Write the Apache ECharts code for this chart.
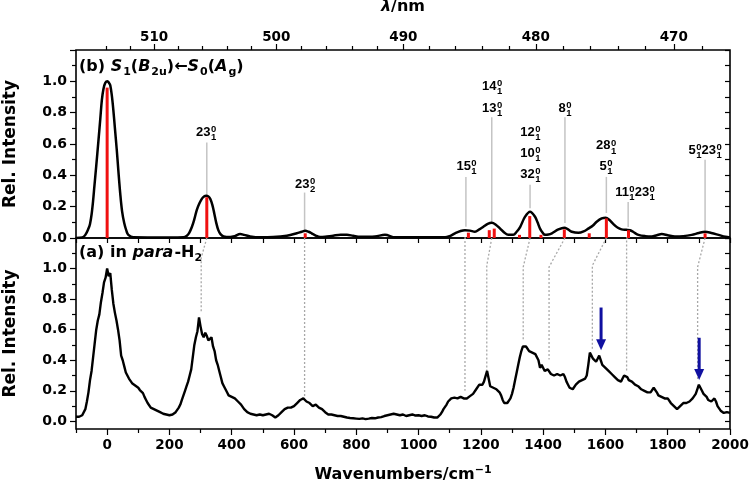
<!DOCTYPE html>
<html>
<head>
<meta charset="UTF-8">
<title>S1 - S0 spectrum</title>
<script src="https://cdn.jsdelivr.net/npm/echarts@6/dist/echarts.min.js"></script>
<style>
    *{margin:0;padding:0;}
    #main{width:750px;height:486px;background:#fff;}
</style>
</head>
<body>
<div id="main"></div>
<script>
var FONT = "'Liberation Sans', Arial, sans-serif";   // peak labels
var TFONT = "'DejaVu Sans', sans-serif";             // axes and titles

// origin band position (cm-1), used for the wavelength axis on top
var nu0 = 19457;
var topNmMajor = [510, 500, 490, 480, 470];
var topNmMinor = [514, 512, 508, 506, 504, 502, 498, 496, 494, 492, 488, 486, 484, 482, 478, 476, 474, 472, 468];

var wnMajor = [0, 200, 400, 600, 800, 1000, 1200, 1400, 1600, 1800, 2000];
var wnMinor = [-100, 100, 300, 500, 700, 900, 1100, 1300, 1500, 1700, 1900];
var intMajor = [0, 0.2, 0.4, 0.6, 0.8, 1.0];
var intTicks = [0, 0.2, 0.4, 0.6, 0.8, 1.0, 1.2];
var intMinor = [0.1, 0.3, 0.5, 0.7, 0.9, 1.1];
var intAll = [0, 0.1, 0.2, 0.3, 0.4, 0.5, 0.6, 0.7, 0.8, 0.9, 1.0, 1.1, 1.2];

// (b) simulated spectrum envelope
var simX = [-100, -80, -70, -60, -55, -50, -45, -41, -35, -28, -22, -17, -12, -6, 1, 6, 10, 15, 20, 25, 31, 36, 42, 48, 55, 62, 68, 84, 150, 245,
    256, 264, 272, 280, 288, 296, 304, 311, 318, 325, 331, 338, 344, 350, 357, 364, 374, 395, 410, 427, 440, 459, 491, 533, 577, 609, 625, 636, 647, 657,
    670, 684, 700, 726, 750, 770, 790, 812, 860, 892, 925, 999, 1085, 1100, 1117, 1135, 1149, 1165, 1181, 1195, 1208, 1222, 1235, 1248, 1262, 1275, 1288, 1304, 1315, 1326,
    1342, 1358, 1374, 1382, 1390, 1398, 1406, 1417, 1428, 1449, 1468, 1480, 1492, 1513, 1530, 1545, 1560, 1572, 1588, 1601, 1613, 1625, 1640, 1652, 1667, 1679, 1692, 1706, 1728, 1749,
    1765, 1781, 1800, 1823, 1850, 1877, 1900, 1920, 1940, 1963, 1985, 2000];
var simY = [0, 0.003, 0.02, 0.06, 0.09, 0.15, 0.24, 0.33, 0.46, 0.62, 0.76, 0.88, 0.95, 0.99, 1.0, 0.99, 0.975, 0.91, 0.815, 0.70, 0.56, 0.43, 0.285, 0.17, 0.094, 0.045, 0.02, 0.004, 0.003, 0.005,
    0.015, 0.035, 0.07, 0.12, 0.18, 0.22, 0.25, 0.265, 0.27, 0.265, 0.25, 0.21, 0.157, 0.10, 0.05, 0.025, 0.01, 0.006, 0.012, 0.025, 0.02, 0.01, 0.004, 0.006, 0.015, 0.03, 0.04, 0.046, 0.04, 0.03,
    0.015, 0.006, 0.008, 0.015, 0.02, 0.02, 0.014, 0.008, 0.01, 0.02, 0.004, 0.004, 0.004, 0.012, 0.03, 0.045, 0.05, 0.047, 0.04, 0.055, 0.072, 0.09, 0.097, 0.085, 0.06, 0.035, 0.02, 0.02, 0.04, 0.07,
    0.136, 0.168, 0.136, 0.10, 0.06, 0.035, 0.02, 0.022, 0.03, 0.055, 0.066, 0.055, 0.04, 0.033, 0.042, 0.06, 0.08, 0.104, 0.125, 0.13, 0.115, 0.09, 0.065, 0.055, 0.052, 0.05, 0.035, 0.02, 0.012, 0.01,
    0.018, 0.025, 0.018, 0.01, 0.012, 0.02, 0.032, 0.04, 0.032, 0.02, 0.008, 0.004];

// (b) calculated stick spectrum
var stickX = [0, 320, 636, 1160, 1227, 1243, 1324, 1357, 1393, 1468, 1548, 1603, 1674, 1920];
var stickY = [0.96, 0.26, 0.03, 0.034, 0.05, 0.06, 0.02, 0.14, 0.02, 0.055, 0.03, 0.125, 0.05, 0.03];

// assignment guide lines in (b)
var guideX = [320, 634, 1152, 1235, 1358, 1470, 1603, 1673, 1920];
var guideLow = [0.27, 0.05, 0.072, 0.10, 0.19, 0.095, 0.16, 0.07, 0.05];
var guideHigh = [0.61, 0.29, 0.39, 0.77, 0.34, 0.77, 0.39, 0.23, 0.50];

// assignment labels: mode numbers (superscript 0, subscript quanta)
var labelX = [318, 636, 1154, 1236, 1236, 1359, 1359, 1359, 1470, 1602, 1602, 1695, 1920];
var labelY = [0.675, 0.34, 0.455, 0.83, 0.97, 0.408, 0.543, 0.677, 0.826, 0.454, 0.588, 0.289, 0.56];
var labelModes = [['23'], ['23'], ['15'], ['13'], ['14'], ['32'], ['10'], ['12'], ['8'], ['5'], ['28'], ['11', '23'], ['5', '23']];
var labelQuanta = [['1'], ['2'], ['1'], ['1'], ['1'], ['1'], ['1'], ['1'], ['1'], ['1'], ['1'], ['1', '1'], ['1', '1']];

// (a) experimental spectrum in para-H2, sampled every 5 cm-1 from -100 (one row = 100 cm-1)
var expStart = -100, expStep = 5;
var expY = [
    0.03, 0.025, 0.03, 0.035, 0.04, 0.05, 0.08, 0.13, 0.19, 0.27, 0.33, 0.42, 0.51, 0.60, 0.66, 0.70, 0.78, 0.84, 0.91, 0.94,
    1.00, 0.95, 0.97, 0.86, 0.77, 0.71, 0.66, 0.60, 0.53, 0.43, 0.40, 0.36, 0.32, 0.31, 0.28, 0.27, 0.25, 0.245, 0.235, 0.225,
    0.22, 0.205, 0.20, 0.185, 0.16, 0.14, 0.12, 0.11, 0.09, 0.09, 0.08, 0.07, 0.07, 0.065, 0.06, 0.06, 0.05, 0.05, 0.045, 0.04,
    0.04, 0.04, 0.045, 0.05, 0.06, 0.07, 0.09, 0.11, 0.14, 0.17, 0.20, 0.23, 0.26, 0.30, 0.34, 0.42, 0.50, 0.55, 0.59, 0.68,
    0.62, 0.57, 0.55, 0.58, 0.56, 0.53, 0.54, 0.55, 0.49, 0.46, 0.40, 0.37, 0.33, 0.29, 0.25, 0.23, 0.21, 0.19, 0.17, 0.165,
    0.16, 0.155, 0.15, 0.14, 0.13, 0.12, 0.11, 0.095, 0.08, 0.07, 0.06, 0.055, 0.05, 0.048, 0.045, 0.042, 0.04, 0.043, 0.045, 0.042,
    0.04, 0.043, 0.045, 0.05, 0.05, 0.045, 0.04, 0.03, 0.025, 0.03, 0.04, 0.05, 0.06, 0.07, 0.08, 0.085, 0.09, 0.085, 0.09, 0.095,
    0.10, 0.11, 0.12, 0.13, 0.14, 0.145, 0.15, 0.14, 0.13, 0.135, 0.12, 0.11, 0.10, 0.105, 0.11, 0.10, 0.09, 0.095, 0.08, 0.07,
    0.06, 0.05, 0.045, 0.048, 0.045, 0.04, 0.04, 0.038, 0.035, 0.035, 0.035, 0.03, 0.03, 0.028, 0.025, 0.025, 0.022, 0.02, 0.02, 0.02,
    0.018, 0.02, 0.016, 0.02, 0.02, 0.016, 0.015, 0.02, 0.018, 0.02, 0.022, 0.025, 0.02, 0.022, 0.025, 0.03, 0.028, 0.035, 0.035, 0.04,
    0.04, 0.045, 0.045, 0.04, 0.05, 0.055, 0.045, 0.04, 0.04, 0.045, 0.045, 0.04, 0.035, 0.04, 0.04, 0.045, 0.045, 0.04, 0.038, 0.042,
    0.04, 0.038, 0.035, 0.04, 0.04, 0.035, 0.032, 0.03, 0.03, 0.028, 0.025, 0.025, 0.025, 0.03, 0.045, 0.06, 0.08, 0.09, 0.11, 0.13,
    0.14, 0.15, 0.15, 0.155, 0.16, 0.15, 0.15, 0.16, 0.16, 0.15, 0.14, 0.15, 0.16, 0.165, 0.17, 0.18, 0.19, 0.21, 0.22, 0.24,
    0.25, 0.24, 0.26, 0.27, 0.33, 0.28, 0.23, 0.22, 0.22, 0.21, 0.21, 0.20, 0.19, 0.17, 0.14, 0.12, 0.11, 0.12, 0.13, 0.15,
    0.18, 0.22, 0.27, 0.32, 0.37, 0.42, 0.46, 0.49, 0.50, 0.49, 0.48, 0.46, 0.46, 0.45, 0.44, 0.44, 0.43, 0.40, 0.35, 0.37,
    0.36, 0.33, 0.32, 0.34, 0.33, 0.31, 0.31, 0.30, 0.30, 0.31, 0.31, 0.30, 0.30, 0.31, 0.29, 0.26, 0.24, 0.22, 0.21, 0.21,
    0.22, 0.24, 0.25, 0.26, 0.26, 0.27, 0.27, 0.28, 0.30, 0.37, 0.45, 0.43, 0.41, 0.40, 0.39, 0.41, 0.43, 0.40, 0.37, 0.36,
    0.35, 0.34, 0.33, 0.32, 0.31, 0.30, 0.29, 0.28, 0.27, 0.27, 0.26, 0.28, 0.30, 0.30, 0.29, 0.27, 0.26, 0.26, 0.25, 0.24,
    0.23, 0.23, 0.22, 0.21, 0.20, 0.20, 0.19, 0.19, 0.18, 0.19, 0.20, 0.22, 0.22, 0.19, 0.17, 0.17, 0.16, 0.16, 0.15, 0.15,
    0.15, 0.14, 0.12, 0.11, 0.10, 0.09, 0.08, 0.09, 0.10, 0.11, 0.12, 0.12, 0.12, 0.13, 0.13, 0.14, 0.15, 0.16, 0.18, 0.21,
    0.24, 0.22, 0.20, 0.18, 0.17, 0.16, 0.14, 0.14, 0.13, 0.14, 0.15, 0.13, 0.10, 0.085, 0.07, 0.06, 0.055, 0.06, 0.06, 0.06,
    0.055
];

// dotted correlation lines from (b) down into (a)
var connTopX = [320, 634, 1152, 1235, 1358, 1470, 1603, 1673, 1920];
var connKinkX = [302, 634, 1149, 1219, 1336, 1419, 1558, 1668, 1896];
var connKinkY = [1.07, 1.2, 1.2, 1.02, 1.01, 1.01, 1.02, 1.2, 1.01];
var connEndY = [0.72, 0.16, 0.20, 0.32, 0.525, 0.405, 0.47, 0.32, 0.27];

// blue arrows in (a)
var arrowX = [1586, 1901];
var arrowFrom = [0.745, 0.547];
var arrowTo = [0.466, 0.27];

function nmToShift(nm) { return 1e7 / nm - nu0; }
function zip(a, b) { return a.map(function (v, i) { return [v, b[i]]; }); }

var measureCtx = document.createElement('canvas').getContext('2d');
function textW(s, font) { measureCtx.font = font; return measureCtx.measureText(s).width; }

var MAIN_FONT = 'bold 13px ' + FONT;
var SUB_FONT = 'bold 9.5px ' + FONT;

// panel titles: [text, kind] pieces laid out one after another
var TITLE_FONTS = {m: 'bold 16px ' + TFONT, i: 'italic bold 16px ' + TFONT, s: 'bold 11px ' + TFONT};
function titleGroup(segs, x0, yc) {
    var kids = [], x = x0;
    segs.forEach(function (s) {
        var f = TITLE_FONTS[s[1]];
        kids.push({type: 'text', x: x, y: yc + (s[1] === 's' ? 5 : 0),
            style: {text: s[0], font: f, fill: '#000', verticalAlign: 'middle', align: 'left'}});
        x += textW(s[0], f) + (s[1] === 'i' ? 1 : 0);
    });
    return {type: 'group', children: kids, z: 10};
}

var tickStyle = {color: '#000', width: 1.2};
var noLine = {show: false, onZero: false};
var labelStyle = {color: '#000', fontWeight: 'bold', fontSize: 14, fontFamily: TFONT};
var xLabelStyle = {color: '#000', fontWeight: 'bold', fontSize: 13.5, fontFamily: TFONT};
var nameStyle = {fontWeight: 'bold', fontSize: 16, fontFamily: TFONT, color: '#000'};
var yNameStyle = {fontWeight: 'bold', fontSize: 17, fontFamily: TFONT, color: '#000'};

function tickOnly(gridIndex, position, values, len, inside) {
    return {type: 'value', gridIndex: gridIndex, position: position,
        axisLine: noLine,
        axisTick: {show: true, inside: !!inside, length: len, lineStyle: tickStyle, customValues: values},
        axisLabel: {show: false}, splitLine: {show: false}};
}

var myChart = echarts.init(document.getElementById('main'));

var xAxes = [
    // 0: (b) bottom edge
    Object.assign(tickOnly(0, 'bottom', [], 0), {axisTick: {show: false}}),
    // 1: (b) wavelength axis, major
    {type: 'value', gridIndex: 0, position: 'top',
        name: '{i|λ}{m|/nm}', nameLocation: 'middle', nameGap: 35,
        nameTextStyle: {rich: {
            i: Object.assign({fontStyle: 'italic'}, nameStyle),
            m: nameStyle
        }},
        axisLine: noLine,
        axisTick: {show: true, length: 6, lineStyle: tickStyle, customValues: topNmMajor.map(nmToShift)},
        axisLabel: Object.assign({show: true, margin: 6, customValues: topNmMajor.map(nmToShift),
            formatter: function (v) { return String(Math.round(1e7 / (v + nu0))); }}, xLabelStyle),
        splitLine: {show: false}},
    // 2: (a) bottom, major with labels
    {type: 'value', gridIndex: 1, position: 'bottom',
        name: '{m|Wavenumbers/cm}{p|−1}', nameLocation: 'middle', nameGap: 36,
        nameTextStyle: {rich: {
            m: Object.assign({lineHeight: 20, verticalAlign: 'middle'}, nameStyle),
            p: {fontWeight: 'bold', fontSize: 11, fontFamily: TFONT, color: '#000', lineHeight: 11, verticalAlign: 'top'}
        }},
        axisLine: noLine,
        axisTick: {show: true, length: 6, lineStyle: tickStyle, customValues: wnMajor},
        axisLabel: Object.assign({show: true, margin: 9, customValues: wnMajor,
            formatter: function (v) { return String(v); }}, xLabelStyle),
        splitLine: {show: false}},
    // 3: (a) top edge, inner ticks
    tickOnly(1, 'top', wnMajor.concat(wnMinor), 5, true),
    // 4: (b) wavelength minor ticks
    tickOnly(2, 'top', topNmMinor.map(nmToShift), 4),
    // 5: (a) bottom minor ticks
    tickOnly(3, 'bottom', wnMinor, 4)
];
xAxes.forEach(function (ax) { ax.min = -100; ax.max = 2000; });

var yAxes = [
    // 0: (b) left
    {type: 'value', gridIndex: 0, min: 0, max: 1.2, position: 'left',
        name: 'Rel. Intensity', nameLocation: 'middle', nameGap: 57, nameTextStyle: yNameStyle,
        axisLine: noLine,
        axisTick: {show: true, length: 6, lineStyle: tickStyle, customValues: intTicks},
        axisLabel: Object.assign({show: true, margin: 9, customValues: intMajor,
            formatter: function (v) { return v.toFixed(1); }}, labelStyle),
        splitLine: {show: false}},
    // 1: (b) right
    Object.assign(tickOnly(0, 'right', intAll, 5, true), {min: 0, max: 1.2}),
    // 2: (a) left
    {type: 'value', gridIndex: 1, min: -0.05, max: 1.2, position: 'left',
        name: 'Rel. Intensity', nameLocation: 'middle', nameGap: 57, nameTextStyle: yNameStyle,
        axisLine: noLine,
        axisTick: {show: true, length: 6, lineStyle: tickStyle, customValues: intMajor},
        axisLabel: Object.assign({show: true, margin: 9, customValues: intMajor,
            formatter: function (v) { return v.toFixed(1); }}, labelStyle),
        splitLine: {show: false}},
    // 3: (a) right
    Object.assign(tickOnly(1, 'right', intAll, 5, true), {min: -0.05, max: 1.2}),
    // 4: (b) left minor
    Object.assign(tickOnly(2, 'left', intMinor, 4), {min: 0, max: 1.2}),
    // 5: (a) left minor
    Object.assign(tickOnly(3, 'left', intMinor, 4), {min: -0.05, max: 1.2})
];

var gridBase = {left: 76, right: 20, containLabel: false, outerBoundsMode: 'none'};
var option = {
    animation: false,
    backgroundColor: '#fff',
    grid: [
        Object.assign({top: 50, height: 188, show: true, borderColor: '#000', borderWidth: 1.6, backgroundColor: 'transparent'}, gridBase),
        Object.assign({top: 238, height: 191, show: true, borderColor: '#000', borderWidth: 1.6, backgroundColor: 'transparent'}, gridBase),
        Object.assign({top: 50, height: 188}, gridBase),
        Object.assign({top: 238, height: 191}, gridBase)
    ],
    xAxis: xAxes,
    yAxis: yAxes,
    graphic: [
        titleGroup([['(b) ', 'm'], ['S', 'i'], ['1', 's'], ['(', 'm'], ['B', 'i'], ['2u', 's'], [')←', 'm'],
            ['S', 'i'], ['0', 's'], ['(', 'm'], ['A', 'i'], ['g', 's'], [')', 'm']], 79, 67),
        titleGroup([['(a) in ', 'm'], ['para', 'i'], ['-H', 'm'], ['2', 's']], 79, 253)
    ],
    series: [
        {   // guide lines from peaks to labels
            type: 'custom', xAxisIndex: 0, yAxisIndex: 0, z: 1,
            data: guideX.map(function (x, i) { return [x, guideLow[i], guideHigh[i]]; }),
            encode: {x: 0, y: [1, 2]},
            renderItem: function (params, api) {
                var p1 = api.coord([api.value(0), api.value(1)]);
                var p2 = api.coord([api.value(0), api.value(2)]);
                return {type: 'line', shape: {x1: p1[0], y1: p1[1], x2: p2[0], y2: p2[1]},
                    style: {stroke: '#c4c4c4', lineWidth: 1.5}};
            }
        },
        {   // simulated envelope
            type: 'line', xAxisIndex: 0, yAxisIndex: 0, z: 2,
            data: zip(simX, simY), smooth: 0.35, symbol: 'none',
            lineStyle: {color: '#000', width: 2.5}
        },
        {   // sticks
            type: 'bar', xAxisIndex: 0, yAxisIndex: 0, z: 3,
            data: zip(stickX, stickY), barWidth: 3,
            itemStyle: {color: '#f01010'}
        },
        {   // assignment labels
            type: 'custom', xAxisIndex: 0, yAxisIndex: 0, z: 5,
            data: labelX.map(function (x, i) { return [x, labelY[i], i]; }),
            encode: {x: 0, y: 1},
            renderItem: function (params, api) {
                var i = api.value(2);
                var pt = api.coord([api.value(0), api.value(1)]);
                var modes = labelModes[i], quanta = labelQuanta[i];
                var widths = modes.map(function (m, k) {
                    return textW(m, MAIN_FONT) + Math.max(textW('0', SUB_FONT), textW(quanta[k], SUB_FONT)) + 0.5;
                });
                var total = widths.reduce(function (a, b) { return a + b; }, 0);
                var x = pt[0] - total / 2;
                var kids = [];
                modes.forEach(function (m, k) {
                    var w = textW(m, MAIN_FONT);
                    kids.push({type: 'text', style: {text: m, x: x, y: pt[1], font: MAIN_FONT, fill: '#000', align: 'left', verticalAlign: 'middle'}});
                    kids.push({type: 'text', style: {text: '0', x: x + w + 0.5, y: pt[1] - 3, font: SUB_FONT, fill: '#000', align: 'left', verticalAlign: 'middle'}});
                    kids.push({type: 'text', style: {text: quanta[k], x: x + w + 0.5, y: pt[1] + 5, font: SUB_FONT, fill: '#000', align: 'left', verticalAlign: 'middle'}});
                    x += widths[k];
                });
                return {type: 'group', children: kids};
            }
        },
        {   // dotted correlation lines
            type: 'custom', xAxisIndex: 2, yAxisIndex: 2, z: 1,
            data: connTopX.map(function (x, i) { return [x, connKinkX[i], connKinkY[i], connEndY[i]]; }),
            encode: {x: 0, y: 3},
            renderItem: function (params, api) {
                var a = api.coord([api.value(0), 1.2]);
                var b = api.coord([api.value(1), api.value(2)]);
                var c = api.coord([api.value(1), api.value(3)]);
                return {type: 'polyline', shape: {points: [a, b, c]},
                    style: {stroke: '#a8a8a8', lineWidth: 1.3, lineDash: [2, 2], fill: null}};
            }
        },
        {   // experimental spectrum
            type: 'line', xAxisIndex: 2, yAxisIndex: 2, z: 2,
            data: expY.map(function (v, i) { return [expStart + i * expStep, v]; }),
            symbol: 'none', lineStyle: {color: '#000', width: 2.4}
        },
        {   // arrows
            type: 'custom', xAxisIndex: 2, yAxisIndex: 2, z: 4,
            data: arrowX.map(function (x, i) { return [x, arrowFrom[i], arrowTo[i]]; }),
            encode: {x: 0, y: [1, 2]},
            renderItem: function (params, api) {
                var a = api.coord([api.value(0), api.value(1)]);
                var b = api.coord([api.value(0), api.value(2)]);
                return {type: 'group', children: [
                    {type: 'line', shape: {x1: a[0], y1: a[1], x2: b[0], y2: b[1] - 8},
                        style: {stroke: '#1010a0', lineWidth: 3}},
                    {type: 'polygon', shape: {points: [[b[0] - 5, b[1] - 11], [b[0] + 5, b[1] - 11], [b[0], b[1]]]},
                        style: {fill: '#1010a0'}}
                ]};
            }
        }
    ]
};

myChart.setOption(option);
</script>
</body>
</html>
